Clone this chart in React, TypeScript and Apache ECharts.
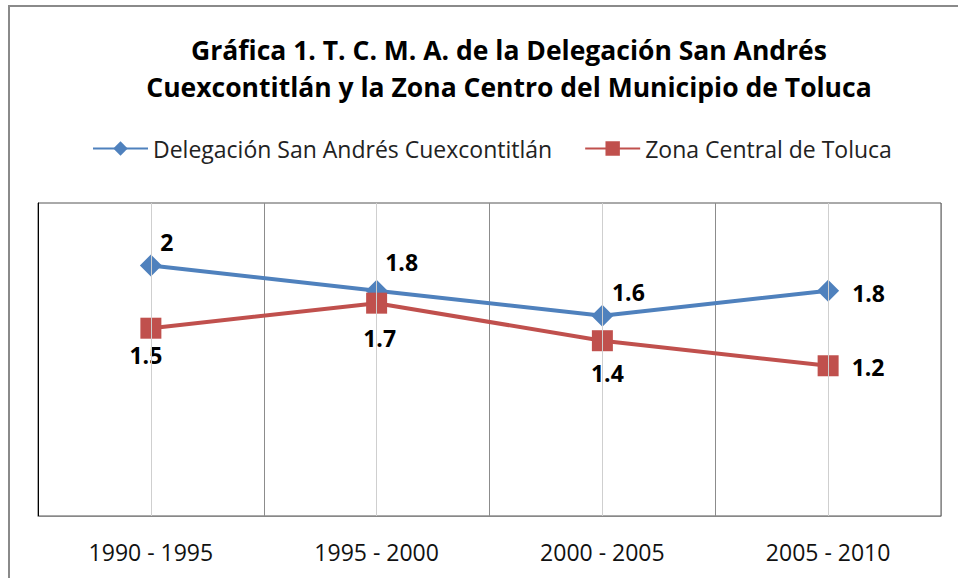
import React, { useEffect, useRef } from "react";
import * as echarts from "echarts";

const titleLines = [
  "Gráfica 1. T. C. M. A. de la Delegación San Andrés",
  "Cuexcontitlán y la Zona Centro del Municipio de Toluca",
];
const categories = ["1990 - 1995", "1995 - 2000", "2000 - 2005", "2005 - 2010"];
const seriesNames = ["Delegación San Andrés Cuexcontitlán", "Zona Central de Toluca"];
const delegacionValues = [2, 1.8, 1.6, 1.8];
const zonaValues = [1.5, 1.7, 1.4, 1.2];

const FONT = "'Open Sans', 'Noto Sans', sans-serif";

const blueLabels = [
  { position: "top", offset: [16, 4] },
  { position: "top", offset: [25, -1] },
  { position: "top", offset: [26, 4] },
  { position: "right", offset: [8, 2] },
];
const redLabels = [
  { position: "bottom", offset: [-5, 0] },
  { position: "bottom", offset: [3, 8] },
  { position: "bottom", offset: [5, 5] },
  { position: "right", offset: [8, 1] },
];

export default function App() {
  const ref = useRef<HTMLDivElement>(null);
  useEffect(() => {
    if (!ref.current) return;
    const chart = echarts.init(ref.current, undefined, { renderer: "svg" });
    const labelBase = {
      show: true,
      color: "#000",
      fontFamily: FONT,
      fontWeight: "bold",
      fontSize: 23,
    };
    chart.setOption({
      animation: false,
      backgroundColor: "#fff",
      graphic: [
        {
          type: "rect",
          shape: { x: 9, y: 6, width: 1200, height: 800 },
          style: { fill: "none", stroke: "#8a8a8a", lineWidth: 2 },
          silent: true,
        },
        {
          type: "text",
          x: 509,
          y: 31,
          style: {
            text: titleLines.join("\n"),
            font: `bold 26.5px ${FONT}`,
            lineHeight: 37,
            textAlign: "center",
            fill: "#000",
          },
        },
      ],
      legend: {
        left: 87,
        top: 132,
        itemWidth: 55,
        itemHeight: 18,
        itemGap: 32,
        textStyle: { fontFamily: FONT, fontSize: 23, color: "#222" },
        data: seriesNames,
      },
      grid: {
        left: 38,
        right: 17,
        top: 203,
        bottom: 62,
        show: true,
        borderColor: "#555",
        borderWidth: 1,
      },
      xAxis: {
        type: "category",
        data: categories,
        boundaryGap: true,
        axisLine: { show: true, lineStyle: { color: "#888" } },
        axisTick: { show: false },
        axisLabel: { fontFamily: FONT, fontSize: 23, color: "#111", margin: 24 },
        splitLine: { show: true, lineStyle: { color: "#8c8c8c", width: 1 } },
      },
      yAxis: {
        type: "value",
        min: 0,
        max: 2.5,
        axisLine: { show: true, lineStyle: { color: "#000" } },
        axisTick: { show: false },
        axisLabel: { show: false },
        splitLine: { show: false },
      },
      series: [
        {
          type: "line",
          name: "_grid",
          data: [],
          z: 1,
          silent: true,
          markLine: {
            silent: true,
            symbol: "none",
            label: { show: false },
            lineStyle: { color: "#cfcfcf", width: 1, type: "solid" },
            data: categories.map((c) => ({ xAxis: c })),
          },
        },
        {
          type: "line",
          name: seriesNames[0],
          data: delegacionValues.map((v, i) => ({
            value: v,
            label: { ...labelBase, ...blueLabels[i] },
          })),
          z: 3,
          symbol: "diamond",
          symbolSize: 22,
          color: "#4F81BD",
          lineStyle: { color: "#4F81BD", width: 4 },
          itemStyle: { color: "#4F81BD" },
        },
        {
          type: "line",
          name: seriesNames[1],
          data: zonaValues.map((v, i) => ({
            value: v,
            label: { ...labelBase, ...redLabels[i] },
          })),
          z: 4,
          symbol: "rect",
          symbolSize: 21,
          color: "#C0504D",
          lineStyle: { color: "#C0504D", width: 4 },
          itemStyle: { color: "#C0504D" },
        },
      ],
    });
    return () => chart.dispose();
  }, []);
  return (
    <div
      ref={ref}
      style={{ position: "absolute", left: 0, top: 0, width: 958, height: 578 }}
    />
  );
}
